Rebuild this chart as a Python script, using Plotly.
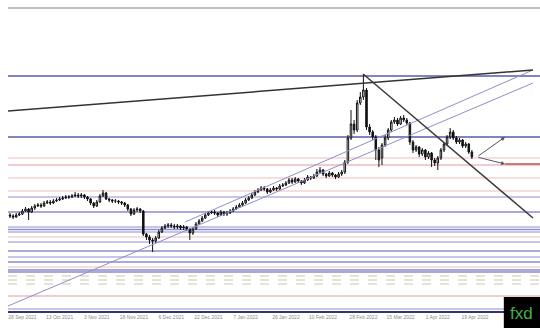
import numpy as np
import plotly.graph_objects as go

# ---------------- data (price units, arbitrary scale) ----------------
open_ = [95,94,93,95,96,99,101,98,102,104,
         105,104,107,108,107,109,110,111,112,113,
         113,114,115,114,115,113,111,107,104,108,
         114,117,111,110,109,109,108,107,105,101,
         96,100,101,99,76,73,70,69,72,78,
         82,84,85,84,83,84,82,83,81,77,
         81,86,89,92,95,97,98,97,95,98,
         96,97,99,101,103,105,107,110,112,115,
         118,120,122,121,118,120,122,121,124,125,
         127,130,128,131,129,127,130,133,132,134,
         138,140,136,134,137,135,133,136,138,148,
         172,186,180,207,213,220,183,178,173,160,
         152,165,172,180,188,190,186,192,190,187,
         168,160,163,156,160,153,157,150,147,152,
         160,166,173,178,172,168,170,164,166,158]
close = [94,93,95,96,99,101,98,102,104,105,
         104,107,108,107,109,110,111,112,113,113,
         114,115,114,115,113,111,107,104,108,114,
         117,111,110,109,109,108,107,105,101,96,
         100,101,99,76,73,70,69,72,78,82,
         84,85,84,83,84,82,83,81,77,81,
         86,89,92,95,97,98,97,95,98,96,
         97,99,101,103,105,107,110,112,115,118,
         120,122,121,118,120,122,121,124,125,127,
         130,128,131,129,127,130,133,132,134,138,
         140,136,134,137,135,133,136,138,148,172,
         186,180,207,213,220,183,178,173,160,150,
         165,172,180,188,190,186,192,190,187,168,
         160,163,156,160,153,157,150,147,152,160,
         166,173,178,172,168,170,164,166,158,153]
high = [97,96,97,98,101,103,102,104,106,107,
        107,109,110,110,111,112,113,114,115,115,
        116,118,117,117,116,114,112,108,110,116,
        120,118,112,111,111,110,109,108,106,102,
        102,103,102,100,77,75,72,74,80,84,
        86,87,87,86,86,85,85,84,82,83,
        88,91,94,97,99,100,100,98,100,99,
        99,101,103,105,107,109,112,114,117,120,
        122,124,124,122,122,124,123,126,127,129,
        132,132,133,132,130,132,135,134,136,141,
        143,141,137,139,138,136,138,140,150,175,
        200,190,210,218,235,222,186,180,175,163,
        167,175,182,190,193,192,194,195,192,188,
        170,165,164,162,161,159,158,152,154,162,
        168,175,182,180,174,172,171,168,167,160]
low = [92,91,92,94,95,98,90,97,100,103,
       102,103,106,105,106,108,109,110,111,111,
       112,113,112,112,111,109,105,102,103,107,
       113,110,108,107,107,106,105,103,99,94,
       95,98,97,74,70,66,58,67,71,77,
       81,82,82,81,81,80,80,79,70,75,
       80,85,88,91,94,96,95,93,94,94,
       94,96,98,100,102,104,106,109,111,114,
       117,119,119,116,117,119,119,120,123,124,
       126,126,127,127,125,126,129,130,131,133,
       137,134,132,133,133,131,132,134,136,146,
       170,176,178,205,210,180,175,170,150,143,
       145,163,170,178,186,184,185,188,185,165,
       157,158,153,154,150,151,143,144,140,150,
       158,164,171,170,166,166,162,162,156,151]

tick_positions = [4, 16, 28, 40, 52, 64, 76, 89, 101, 114, 126, 138, 150]
tick_labels = ["28 Sep 2021", "13 Oct 2021", "3 Nov 2021", "18 Nov 2021", "6 Dec 2021",
               "22 Dec 2021", "7 Jan 2022", "26 Jan 2022", "10 Feb 2022", "28 Feb 2022",
               "15 Mar 2022", "1 Apr 2022", "19 Apr 2022"]

# horizontal levels grouped by kind
major_levels = [234, 173]
pink_levels = [152, 132, 119, 73, 43]
red_levels = [145, 14]
blue_levels = [98, 80.5, 59, 48, 40, 38]
lightblue_levels = [113, 83, 78, 68, 53, 1]
dashed_levels = [34, 30, 26]

# trend lines: (x0, y0, x1, y1) in bar index / price
resistance_line = (-0.645, 199, 168.7, 240)
down_line = (113.9, 236, 168.7, 92)
channel_low = (-0.645, 4, 168.7, 227)
channel_high = (56.5, 88, 168.7, 240)
arrow_start = (150.6, 153)
arrow_up_end = (159.7, 173)
arrow_down_end = (159.7, 146)
target_segment = (159.7, 146, 171, 146)

x = np.arange(len(close))

fig = go.Figure()
fig.add_trace(go.Candlestick(
    x=x, open=open_, high=high, low=low, close=close,
    increasing=dict(line=dict(color="#111111", width=1), fillcolor="#ffffff"),
    decreasing=dict(line=dict(color="#111111", width=1), fillcolor="#111111"),
    showlegend=False, hoverinfo="skip"))

shapes = []
def hline(v, color, width, dash="solid"):
    shapes.append(dict(type="line", xref="paper", x0=0, x1=1, yref="y", y0=v, y1=v,
                       line=dict(color=color, width=width, dash=dash), layer="below"))

for v in major_levels:
    hline(v, "#5a5aa8", 1.6)
for v in pink_levels:
    hline(v, "#efbcbc", 1)
for v in red_levels:
    hline(v, "#e39a9a", 1.2)
for v in blue_levels:
    hline(v, "#8c8ccc", 1.6)
for v in lightblue_levels:
    hline(v, "#c6c6ea", 2)
for v in dashed_levels:
    hline(v, "#cdc6ad", 1, "dash")

def seg(t, color, width):
    shapes.append(dict(type="line", xref="x", yref="y", x0=t[0], y0=t[1], x1=t[2], y1=t[3],
                       line=dict(color=color, width=width)))

seg(channel_low, "#8f8fc8", 1)
seg(channel_high, "#8f8fc8", 1)
seg(resistance_line, "#333333", 1.5)
seg(down_line, "#3a3a3a", 1.5)
seg(target_segment, "#c85050", 1.5)

# top border
shapes.append(dict(type="line", xref="paper", yref="paper", x0=0, x1=1, y0=1, y1=1,
                   line=dict(color="#a8a8a8", width=1.5)))
# fxd logo box
shapes.append(dict(type="rect", xref="paper", yref="paper", x0=0.932, x1=1.0,
                   y0=-0.06, y1=0.046, fillcolor="#000000", line=dict(width=0)))

annotations = []
for end in (arrow_up_end, arrow_down_end):
    annotations.append(dict(x=end[0], y=end[1], ax=arrow_start[0], ay=arrow_start[1],
                            xref="x", yref="y", axref="x", ayref="y", text="",
                            showarrow=True, arrowhead=2, arrowsize=0.8, arrowwidth=1,
                            arrowcolor="#555566"))
annotations.append(dict(xref="paper", yref="paper", x=0.966, y=-0.007, text="fxd",
                        showarrow=False, font=dict(family="Liberation Sans, Arial", size=17,
                                                   color="#46b046"),
                        xanchor="center", yanchor="middle"))

fig.update_layout(
    width=540, height=328,
    margin=dict(l=8, r=0, t=8, b=17),
    paper_bgcolor="#ffffff", plot_bgcolor="#ffffff",
    shapes=shapes, annotations=annotations,
    showlegend=False,
    xaxis=dict(range=[-0.645, 170.97], rangeslider=dict(visible=False),
               tickmode="array", tickvals=tick_positions, ticktext=tick_labels,
               tickfont=dict(family="Liberation Sans, Arial", size=5, color="#8a8a8a"),
               ticks="", showgrid=False, zeroline=False,
               showline=True, linecolor="#34346e", linewidth=2),
    yaxis=dict(range=[-1, 302], showticklabels=False, showgrid=False, zeroline=False,
               ticks=""),
)

fig.write_html("out.html")
